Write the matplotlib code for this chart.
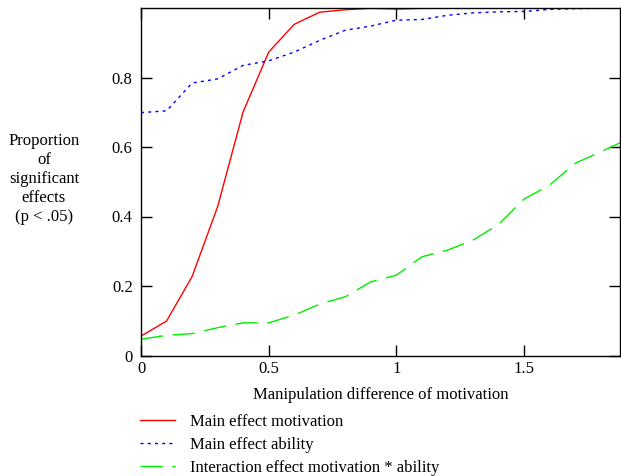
import matplotlib
matplotlib.use("Agg")
import matplotlib.pyplot as plt

plt.rcParams['font.family'] = ['Liberation Serif', 'DejaVu Serif']
plt.rcParams['font.size'] = 12

# manipulation difference (x) and proportion of significant effects
diff = [0.0, 0.1, 0.2, 0.3, 0.4, 0.5, 0.6, 0.7, 0.8, 0.9, 1.0,
        1.1, 1.2, 1.3, 1.4, 1.5, 1.6, 1.7, 1.8, 1.9]
motivation = [0.056, 0.099, 0.227, 0.428, 0.701, 0.873, 0.953, 0.988, 0.995, 0.999, 0.997,
              0.999, 1.0, 1.0, 1.0, 1.0, 1.0, 1.0, 1.0, 1.0]
ability = [0.699, 0.704, 0.784, 0.796, 0.835, 0.848, 0.873, 0.907, 0.936, 0.948, 0.965,
           0.967, 0.979, 0.986, 0.989, 0.990, 0.996, 0.998, 0.999, 1.0]
interaction = [0.047, 0.058, 0.063, 0.080, 0.094, 0.094, 0.116, 0.148, 0.169, 0.212, 0.231,
               0.284, 0.303, 0.332, 0.377, 0.450, 0.490, 0.553, 0.586, 0.620]

fig = plt.figure(figsize=(6.21, 4.76), dpi=100)
ax = fig.add_axes([141 / 621, 120.5 / 476, 479 / 621, 347.5 / 476])

l1, = ax.plot(diff, motivation, color='#ff0000', lw=1.0, label='Main effect motivation')
l2, = ax.plot(diff, ability, color='#0000ff', lw=1.0, dashes=(2.2, 3.0), label='Main effect ability')
l3, = ax.plot(diff, interaction, color='#00ee00', lw=1.0, dashes=(16, 7), label='Interaction effect motivation * ability')

ax.set_xlim(0, 1.876)
ax.set_ylim(0, 1.0)
ax.set_xticks([0, 0.5, 1, 1.5])
ax.set_xticklabels(['0', '0.5', '1', '1.5'])
ax.set_yticks([0, 0.2, 0.4, 0.6, 0.8])
ax.set_yticklabels(['0', '0.2', '0.4', '0.6', '0.8'])
ax.tick_params(direction='in', length=8, width=1, top=True, right=True, pad=6)
ax.tick_params(axis='x', pad=4)
for s in ax.spines.values():
    s.set_linewidth(1)

ax.set_xlabel('Manipulation difference of motivation', labelpad=7)
fig.text(44 / 621, 1 - 179 / 476, 'Proportion\nof\nsignificant\neffects\n(p < .05)',
         ha='center', va='center', linespacing=1.27)

fig.legend(handles=[l1, l2, l3], loc='upper left', bbox_to_anchor=(140 / 621, 1 - 414 / 476),
           frameon=False, handlelength=2.1, handletextpad=0.9, labelspacing=0.42,
           borderpad=0, borderaxespad=0)

fig.savefig('out.png', dpi=100)
